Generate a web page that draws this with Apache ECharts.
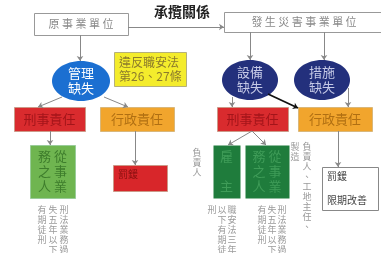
<!DOCTYPE html>
<html>
<head>
<meta charset="utf-8">
<script src="https://cdn.jsdelivr.net/npm/echarts@6/dist/echarts.min.js"></script>
<style>
    html, body { margin: 0; padding: 0; background: #fff; }
    #chart { width: 381px; height: 253px; }
</style>
</head>
<body>
<div id="chart"></div>
<script>
    // 節點文字
    const nodeLabels = [
        '原 事 業 單 位', '發 生 災 害 事 業 單 位', '承攬關係',
        '管理\n缺失', '違反職安法\n第26、27條', '設備\n缺失', '措施\n缺失',
        '刑事責任', '行政責任', '刑事責任', '行政責任',
        '務 從\n之 事\n人 業', '罰鍰', '雇\n\n主', '務 從\n之 事\n人 業', '罰鍰\n\n限期改善'
    ]
    // 節點外形
    const nodeShapes = [
        'rect', 'rect', 'none',
        'ellipse', 'rect', 'ellipse', 'ellipse',
        'rect', 'rect', 'rect', 'rect',
        'rect', 'rect', 'rect', 'rect', 'rect'
    ]
    // 節點位置 [x0, y0, x1, y1]
    const nodeBoxes = [
        [34, 13, 128, 35], [224, 12, 384, 32], [150, 4, 214, 20],
        [52, 61, 110, 101], [114, 52, 186, 86], [222, 60, 278, 100], [294, 60, 350, 100],
        [14, 107, 85, 131], [100, 107, 174, 131], [217, 107, 288, 131], [298, 107, 372, 131],
        [30, 145, 75, 198], [113, 165, 167, 191], [213, 145, 240, 198], [245, 145, 289, 198], [322, 167, 378, 210]
    ]
    // 節點顏色 [填色, 邊框, 文字, 字級]
    const nodeColors = [
        ['#fff', '#999', '#8a8a8a', 11], ['#fff', '#999', '#8a8a8a', 11], ['none', 'none', '#222', 14],
        ['#1b6fd1', 'none', '#fff', 13], ['#f4ec2c', '#b5b07a', '#8c7b2c', 12], ['#23307c', 'none', '#c5c9e6', 13], ['#23307c', 'none', '#c5c9e6', 13],
        ['#d92b2e', '#c98', '#a3151a', 13], ['#f1a52d', '#d9b77a', '#b06f12', 13], ['#d92b2e', '#c98', '#a3151a', 13], ['#f1a52d', '#d9b77a', '#b06f12', 13],
        ['#6fb550', '#9c9', '#3e7d2c', 13], ['#d8262a', '#c98', '#8a1010', 10], ['#1f7c3c', 'none', '#3f9c58', 13], ['#1f7c3c', 'none', '#3f9c58', 13], ['#fff', '#888', '#444', 10]
    ]
    // 箭頭連線
    const edges = [
        [[80, 35], [80, 61]],
        [[128, 27], [224, 27]],
        [[250, 32], [250, 60]],
        [[324, 32], [324, 60]],
        [[62, 97], [38, 107]],
        [[104, 97], [128, 107]],
        [[232, 97], [232, 107]],
        [[268, 94], [298, 108]],
        [[348, 88], [348, 107]],
        [[50, 131], [50, 145]],
        [[135, 131], [135, 165]],
        [[252, 131], [228, 145]],
        [[252, 131], [266, 145]],
        [[338, 131], [338, 167]]
    ]
    // 說明文字 (直書)
    const noteTexts = [
        '刑法業務過', '失五年以下', '有期徒刑',
        '負責人', '製造', '負責人、工地主任、',
        '職安法三年', '以下有期徒', '刑',
        '刑法業務過', '失五年以下', '有期徒刑'
    ]
    const notePos = [
        [64, 205], [53, 205], [42, 205],
        [197, 148], [295, 142], [307, 142],
        [232, 205], [222, 205], [212, 205],
        [282, 205], [272, 205], [262, 205]
    ]

    const font = '"Noto Sans CJK TC", "Noto Sans CJK SC", sans-serif'
    const chart = echarts.init(document.getElementById('chart'))

    chart.setOption({
        backgroundColor: '#fff',
        animation: false,
        grid: { left: 0, right: 0, top: 0, bottom: 0 },
        xAxis: { type: 'value', min: 0, max: 381, show: false },
        yAxis: { type: 'value', min: 0, max: 253, inverse: true, show: false },
        series: [
            {
                type: 'custom',
                coordinateSystem: 'cartesian2d',
                clip: false,
                z: 2,
                data: nodeBoxes,
                renderItem: function (params, api) {
                    let i = params.dataIndex
                    let p0 = api.coord([api.value(0), api.value(1)])
                    let p1 = api.coord([api.value(2), api.value(3)])
                    let w = p1[0] - p0[0]
                    let h = p1[1] - p0[1]
                    let c = nodeColors[i]
                    let children = []
                    if (nodeShapes[i] === 'rect') {
                        children.push({
                            type: 'rect',
                            shape: { x: p0[0] + 0.5, y: p0[1] + 0.5, width: w, height: h },
                            style: { fill: c[0], stroke: c[1] === 'none' ? null : c[1], lineWidth: 1 }
                        })
                    } else if (nodeShapes[i] === 'ellipse') {
                        children.push({
                            type: 'ellipse',
                            shape: { cx: p0[0] + w / 2, cy: p0[1] + h / 2, rx: w / 2, ry: h / 2 },
                            style: { fill: c[0] }
                        })
                    }
                    // 文字位置
                    let tx = p0[0] + w / 2
                    let ty = p0[1] + h / 2
                    let align = 'center'
                    let vAlign = 'middle'
                    if (i === 4 || i === 15) {
                        tx = p0[0] + 5
                        align = 'left'
                    } else if (i === 12) {
                        tx = p0[0] + 5
                        ty = p0[1] + 3
                        align = 'left'
                        vAlign = 'top'
                    }
                    children.push({
                        type: 'text',
                        style: {
                            text: nodeLabels[i],
                            x: tx,
                            y: ty,
                            align: align,
                            verticalAlign: vAlign,
                            fill: c[2],
                            fontSize: c[3],
                            fontWeight: i === 2 ? 'bold' : 'normal',
                            fontFamily: font,
                            lineHeight: c[3] + 2
                        }
                    })
                    return { type: 'group', children: children }
                }
            },
            {
                type: 'custom',
                coordinateSystem: 'cartesian2d',
                clip: false,
                z: 2,
                data: notePos,
                renderItem: function (params, api) {
                    let p = api.coord([api.value(0), api.value(1)])
                    return {
                        type: 'text',
                        style: {
                            text: noteTexts[params.dataIndex].split('').join('\n'),
                            x: p[0],
                            y: p[1],
                            align: 'center',
                            verticalAlign: 'top',
                            fill: '#9a9a9a',
                            fontSize: 9,
                            lineHeight: 10,
                            fontFamily: font
                        }
                    }
                }
            },
            {
                type: 'lines',
                coordinateSystem: 'cartesian2d',
                z: 3,
                symbol: ['none', 'arrow'],
                symbolSize: 5,
                lineStyle: { color: '#888', width: 1, opacity: 1 },
                data: edges.map(function (e, idx) {
                    let item = { coords: e }
                    if (idx === 7) {
                        item.lineStyle = { color: '#111', width: 1.8 }
                    }
                    return item
                })
            }
        ]
    })
</script>
</body>
</html>
